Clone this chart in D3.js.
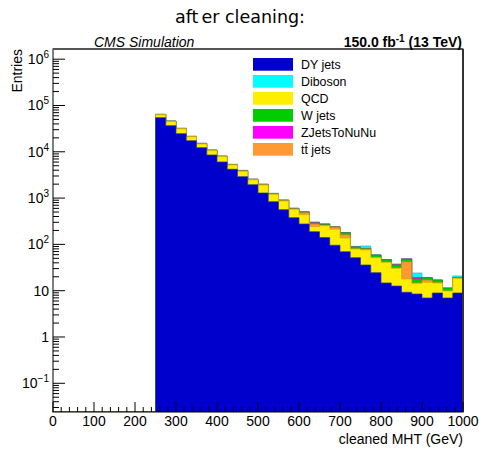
<!DOCTYPE html>
<html><head><meta charset="utf-8">
<script src="https://cdn.jsdelivr.net/npm/d3@7"></script>
<style>body{margin:0;background:#fff}svg{display:block}</style>
</head><body>
<svg id="c" width="479" height="450"></svg>
<script>
// bin edges: 25 GeV bins from 0 to 1000
const binLow = d3.range(0, 1000, 25);
const DY   = [0,0,0,0,0,0,0,0,0,0, 54550,36640,24600,17380,12270,8530,6026,4190,2900,1946,1288,836,561,377,276,188,140,95.7,69.5,51.6,35.9,24.5,14.7,12.6,9.23,8.49,6.96,8.92,6.96,8.92];
const QCD  = [0,0,0,0,0,0,0,0,0,0, 8270,8370,6730,3656,2500,2088,1838,1017,915,541,625,378,305,198,162,53,113,116,67.5,28,39.8,27.1,26.3,17.9,8.67,5.91,8.24,5.78,2.89,9.58];
const TT   = [0,0,0,0,0,0,0,0,0,0, 770,555,386,260,183,131,97,64,48,31,24,15,11,7,46,35,5,22,25,1,3.9,0.5,0.3,0.3,24.4,0.3,1.8,0.1,0,0];
const WJ   = [0,0,0,0,0,0,0,0,0,0, 520,370,258,173,200,88,65,43,32,21,16,25,25,5,18,15,12,5,17,7.3,1.5,6.9,5.5,5.1,5.4,3.2,2.1,2.2,1.55,0.6];
const ZNN  = [0,0,0,0,0,0,0,0,0,0, 190,140,97,65,46,33,24,16,50,8,35,4,3,12,2,8,6,1,0.5,0.5,1,0.2,0.1,1.2,1.0,1.5,0.05,0,0,0];
const DIB  = [0,0,0,0,0,0,0,0,0,0, 260,185,129,86,61,70,60,40,40,40,30,12,5,12,4,6,4,1,0.5,2.6,10.2,0.3,0.1,0.6,0.4,4.7,0.05,0,0,1.7];
const layers = [
  {name:"DY jets", vals:DY, color:"#0000cc", line:"#2a3a9a"},
  {name:"QCD", vals:QCD, color:"#ffee00", line:"#c8b400"},
  {name:"tt̄ jets", vals:TT, color:"#ff9933", line:"#d07a20"},
  {name:"W jets", vals:WJ, color:"#00cc00", line:"#109a10"},
  {name:"ZJetsToNuNu", vals:ZNN, color:"#ff00ff", line:"#b040c0"},
  {name:"Diboson", vals:DIB, color:"#00ffff", line:"#30b0c0"}
];
const legendOrder = ["DY jets","Diboson","QCD","W jets","ZJetsToNuNu","tt̄ jets"];
const xTicks = d3.range(0, 1001, 100);
const yMajor = [1e6,1e5,1e4,1e3,1e2,10,1,0.1];
const yLabels = [["10","6"],["10","5"],["10","4"],["10","3"],["10","2"],["10",""],["1",""],["10","\u22121"]];

const svg = d3.select("#c");
const L=53, R=463, T=49, B=412;
const x = d3.scaleLinear().domain([0,1000]).range([L,R]);
const y = d3.scaleLog().domain([Math.pow(10,-1.62), Math.pow(10,6.22)]).range([B,T]).clamp(true);
const F = "'Liberation Sans', Arial, sans-serif";

// cumulative
const cum = [];
let run = binLow.map(()=>0);
layers.forEach(l=>{ run = run.map((v,i)=>v+l.vals[i]); cum.push(run.slice()); });

function stepPts(vals){
  const p=[];
  binLow.forEach((lo,i)=>{ p.push([lo, vals[i]]); p.push([lo+25, vals[i]]); });
  return p;
}
svg.append("clipPath").attr("id","pc").append("rect").attr("x",L).attr("y",T).attr("width",R-L).attr("height",B-T);
const g = svg.append("g").attr("clip-path","url(#pc)");
const area = d3.area().x(d=>x(d[0])).y0(B).y1(d=>d[1]>0?y(d[1]):B);
const line = d3.line().x(d=>x(d[0])).y(d=>d[1]>0?y(d[1]):B);
for(let k=layers.length-1;k>=0;k--){
  const pts = stepPts(cum[k]);
  g.append("path").attr("d",area(pts)).attr("fill",layers[k].color);
  g.append("path").attr("d",line(pts)).attr("fill","none").attr("stroke",layers[k].line).attr("stroke-width",1).attr("stroke-opacity",0.7);
}

// frame
svg.append("rect").attr("x",L).attr("y",T).attr("width",R-L).attr("height",B-T).attr("fill","none").attr("stroke","#000").attr("stroke-width",1);
svg.append("line").attr("x1",L).attr("x2",R).attr("y1",T).attr("y2",T).attr("stroke","#555").attr("stroke-width",2);
svg.append("line").attr("x1",R).attr("x2",R).attr("y1",T).attr("y2",B).attr("stroke","#333").attr("stroke-width",2);

// x ticks
const ax = svg.append("g");
d3.range(0,1001,20).forEach(v=>{
  const major = v%100===0;
  ax.append("line").attr("x1",x(v)).attr("x2",x(v)).attr("y1",B).attr("y2",B-(major?10:5)).attr("stroke","#000");
});
xTicks.forEach(v=>{
  ax.append("text").attr("x",x(v)).attr("y",426).attr("text-anchor","middle").attr("font-family",F).attr("font-size",14).text(v);
});
ax.append("text").attr("x",R).attr("y",444).attr("text-anchor","end").attr("font-family",F).attr("font-size",14).text("cleaned MHT (GeV)");

// y ticks
const ay = svg.append("g");
for(let e=-2;e<=6;e++){
  for(let m=1;m<=9;m++){
    const v=m*Math.pow(10,e);
    const yy=y(v);
    if(v<y.domain()[0]||v>y.domain()[1]) continue;
    ay.append("line").attr("x1",L).attr("x2",L+(m===1?12:6)).attr("y1",yy).attr("y2",yy).attr("stroke","#000");
  }
}
yMajor.forEach((v,i)=>{
  const t = ay.append("text").attr("x",49).attr("y",y(v)+5).attr("text-anchor","end").attr("font-family",F).attr("font-size",14);
  t.append("tspan").text(yLabels[i][0]);
  if(yLabels[i][1]) t.append("tspan").attr("font-size",10).attr("dy",-6).text(yLabels[i][1]);
});
svg.append("text").attr("transform","translate(22,49) rotate(-90)").attr("text-anchor","end").attr("font-family",F).attr("font-size",14).text("Entries");

// header
svg.append("text").attr("x",94).attr("y",47).attr("font-family",F).attr("font-size",14).attr("font-style","italic").text("CMS Simulation");
const lum = svg.append("text").attr("x",462).attr("y",47).attr("text-anchor","end").attr("font-family",F).attr("font-size",14).attr("font-weight","bold");
lum.append("tspan").text("150.0 fb");
lum.append("tspan").attr("font-size",10).attr("dy",-5).text("-1");
lum.append("tspan").attr("dy",5).text(" (13 TeV)");

// title
const tt = svg.append("text").attr("x",240).attr("y",23).attr("text-anchor","middle").attr("font-family","'DejaVu Sans', sans-serif").attr("font-size",17.5).attr("fill","#000");
tt.append("tspan").text("aft");
tt.append("tspan").attr("dx",3).text("er cleaning:");

// legend
const lg = svg.append("g");
legendOrder.forEach((n,i)=>{
  const l = layers.find(d=>d.name===n);
  const top = 58 + i*17;
  lg.append("rect").attr("x",253).attr("y",top).attr("width",40).attr("height",12.7).attr("fill",l.color);
  lg.append("text").attr("x",301).attr("y",top+10.6).attr("font-family",F).attr("font-size",12.4).text(n);
});
</script>
</body></html>
